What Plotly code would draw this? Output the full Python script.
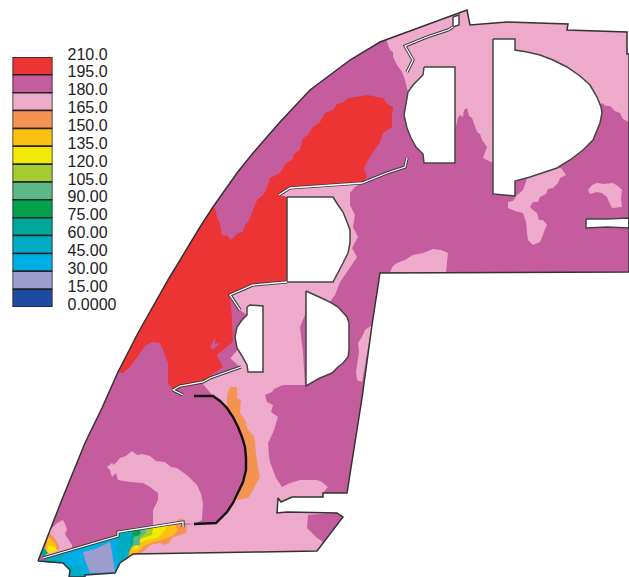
import plotly.graph_objects as go

# ---- legend data ----
legend_levels = [210.0, 195.0, 180.0, 165.0, 150.0, 135.0, 120.0, 105.0, 90.0, 75.0, 60.0, 45.0, 30.0, 15.0, 0.0]
legend_labels = ["210.0", "195.0", "180.0", "165.0", "150.0", "135.0", "120.0", "105.0", "90.00", "75.00", "60.00", "45.00", "30.00", "15.00", "0.0000"]
band_colors = ["#ec3435", "#c55c9e", "#eeaacb", "#f39452", "#fdc010", "#f2ea05", "#a4cb30",
               "#5bb987", "#00a34a", "#00a898", "#00abc4", "#00aee6", "#9c9cce", "#1e4a9f"]
RED, PURPLE, PINK, ORANGE, AMBER, YELLOW, LIME, SEAFOAM, GREEN, TEAL, CYAN, SKY, LAV, NAVY = band_colors

# ---- geometry of the part ----
outline = [(38,561),(50,530),(63,497),(85,443),(102,408),(118,372),(138,333),(168,280),(200,227),(213,207),
           (237,173),(253,153),(280,122),(310,90),(350,60),(380,42),(420,27),(463,11),(467,10),(470,25),(507,22),
           (568,24),(567,30),(627,32),(627,54),(629,54),(629,272),(380,273),(372,325),(362,398),(351,470),(347,493),
           (323,493),(323,497),(292,497),(281,502),(278,498),(277,513),(287,512),(337,513),(343,517),(317,551),
           (260,552),(205,553),(133,554),(120,563),(115,573),(85,575),(85,577),(69,577),(70,570),(63,563),(38,561)]

pink_top = [(387,42),(390,50),(393,52),(393,57),(397,65),(402,72),(405,80),(408,92),(430,110),(455,130),(458,118),(460,115),(463,117),(464,110),(467,108),
            (469,116),(472,118),(474,124),(477,132),(480,134),(482,140),(487,147),(485,152),(483,158),(493,163),(550,150),(602,103),(606,106),(610,106),(615,111),(620,113),
            (623,119),(629,122),(629,54),(627,54),(627,32),(567,30),(568,24),(507,22),(470,25),(467,10),(463,11),(420,27),(387,39)]
pink_e_low = [(530,170),(561,168),(566,175),(560,178),(558,183),(553,188),(548,189),(546,194),(540,197),(538,202),(533,202),(530,207),(533,210),(537,213),(539,220),(543,220),(547,225),
              (545,229),(543,235),(540,242),(533,245),(528,240),(527,233),(526,222),(523,213),(515,211),(508,208),(508,202),(513,201),(516,196),(523,190)]
pink_right = [(588,190),(592,185),(597,183),(604,184),(613,183),(618,186),(622,190),(621,198),(622,207),(612,208),(609,202),(607,197),(602,193),(597,192),(590,194)]
pink_low_mid = [(390,272),(393,266),(397,263),(405,260),(413,255),(423,253),(433,249),(441,250),(448,253),(446,272)]
pink_central = [(232,295),(240,310),(247,315),(240,330),(237,350),(230,358),(240,367),(202,383),(213,396),(227,408),(238,427),
                (245,447),(246,470),(238,493),(227,512),(216,523),(194,524),(183,525),(133,530),(133,554),(205,553),(260,552),
                (317,551),(343,517),(337,513),(287,512),(277,513),(278,498),(281,502),(292,497),(323,497),(323,493),(328,487),
                (322,482),(317,480),(300,480),(290,483),(282,487),(276,478),(273,470),(270,462),(269,456),(268,443),(271,437),(274,430),(278,417),(271,412),(273,405),(267,402),
                (265,395),(272,392),(274,389),(283,385),(305,385),(303,353),(300,327),(305,315),(306,291),(330,302),(335,295),(340,282),
                (347,272),(353,263),(357,257),(352,248),(358,237),(353,227),(355,215),(350,205),(350,193),(355,187),(362,183),
                (290,188),(279,195),(287,197),(287,282),(253,285)]
pink_strip = [(372,325),(365,330),(362,337),(358,343),(359,352),(358,360),(356,372),(357,380),(362,382)]
pink_arch = [(107,467),(112,463),(114,465),(120,458),(126,456),(132,451),(137,455),(142,454),(150,456),(156,461),(165,462),(171,467),(177,468),(188,476),(197,485),(201,494),(203,503),
             (202,520),(194,524),(182,523),(153,527),(153,510),(158,500),(158,493),(150,487),(143,483),(130,482),(118,480),(116,473),(112,477),(110,470)]
pink_left = [(57,523),(63,520),(66,526),(67,530),(65,534),(72,545),(72,550),(44,556),(50,530)]

purple_low = [(308,515),(307,528),(317,538),(323,542),(343,517),(337,513)]
purple_hole_c = [(230,295),(232,318),(233,342),(217,355),(223,367),(230,358),(237,350),(240,330),(240,310)]
purple_finger = [(210,347),(215,338),(215,344),(220,343),(213,350)]

red_main = [(118,372),(138,333),(168,280),(200,227),(213,207),(215,208),(217,217),(220,224),(222,235),(228,236),(230,240),(233,238),(238,233),(243,232),(245,225),(248,222),
            (252,213),(254,207),(257,200),(263,195),(266,190),(268,184),(270,178),(280,173),(286,163),(292,160),(294,154),(300,150),(303,138),(308,135),(313,127),(320,122),(325,113),(333,110),
            (337,104),(342,103),(349,98),(355,97),(367,95),(383,98),(387,104),(393,107),(392,116),(392,127),(383,133),(380,142),(377,147),(372,154),(368,160),(364,168),(367,177),
            (362,183),(290,188),(279,195),(287,197),(287,282),(253,285),(230,295),(233,318),(233,342),(217,355),(223,367),(200,383),(173,390),
            (168,383),(168,363),(164,352),(160,343),(152,342),(145,346),(140,353),(134,361),(130,367),(123,373)]

orange_arc = [(230,387),(237,387),(237,398),(241,400),(240,413),(245,420),(248,430),(254,436),(255,442),(256,455),(258,467),(260,478),(256,484),(253,490),
              (248,498),(237,500),(246,470),(245,447),(238,427),(227,408),(227,395)]
orange_dot = [(177,520),(183,518),(184,524),(178,524)]
sky_low = [(38,561),(43,560),(118,536),(118,533),(135,528),(133,554),(120,563),(115,573),(85,575),(85,577),(69,577),(70,570),(63,563)]
cyan_foot = [(70,566),(80,566),(85,575),(85,577),(69,577),(70,570)]
cyan_tip = [(40,561),(65,553),(62,562),(50,563)]
lav_low = [(83,552),(95,549),(110,542),(112,552),(115,572),(90,573),(85,560)]
cyan_mid = [(118,534),(132,531),(130,540),(131,545),(127,553),(122,560),(118,562),(116,548)]
orange_low = [(135,528),(182,523),(187,527),(186,533),(180,535),(173,537),(169,543),(165,545),(160,543),(150,545),(143,552),(133,555),(128,557),(132,540)]
amber_low = [(135,528),(175,525),(178,530),(173,535),(167,538),(153,542),(145,545),(138,552),(135,553),(129,556),(132,540)]
yellow_low = [(138,528),(167,526),(163,533),(157,538),(147,540),(140,543),(137,549),(133,551)]
lime_low = [(135,528),(153,527),(152,535),(142,538),(137,543),(132,547)]
seafoam_low = [(135,528),(147,528),(145,534),(140,537),(140,545),(132,546)]
green_low = [(131,530),(141,528),(140,535),(133,537)]
teal_low = [(129,535),(134,535),(133,545),(128,553),(126,545)]
orange_tip = [(50,533),(56,540),(60,549),(43,555),(44,548)]
amber_tip = [(48,537),(55,543),(57,550),(45,555)]
yellow_tip = [(48,545),(56,548),(57,551),(50,553),(47,552)]
teal_tip = [(44,548),(48,553),(43,557),(41,554)]

hole_a = [(287,197),(333,197),(338,205),(343,212),(347,222),(350,230),(350,243),(348,253),(343,263),(338,273),(333,282),(287,282)]
hole_b = [(306,291),(320,297),(330,302),(338,307),(343,312),(347,317),(349,323),(349,350),(348,357),(343,363),(338,367),(332,373),(320,378),(306,386)]
hole_c = [(247,307),(250,305),(263,306),(263,372),(248,372),(247,365),(242,356),(237,348),(235,337),(237,327),(242,320),(247,315)]
hole_d = [(424,67),(455,67),(455,163),(424,163),(423,154),(416,147),(411,138),(407,128),(404,115),(406,103),(408,92),(413,85),(419,79),(423,75)]
hole_e = [(493,39),(515,39),(515,50),(527,52),(540,55),(553,60),(567,67),(580,76),(590,85),(597,97),(601,107),(602,113),(600,123),(593,140),
          (583,150),(570,160),(557,168),(543,173),(530,177),(515,181),(515,196),(493,194)]
slot_f = [(586,219),(607,219),(629,218),(629,228),(607,227),(586,228)]
box_g = [(453,17),(459,15),(459,25),(453,27)]

slit_1 = [(43,558),(118,536),(118,532),(180,523),(183,522),(183,527)]
slit_2 = [(183,395),(173,390),(180,386),(203,382),(210,378),(241,367)]
slit_3 = [(240,310),(230,295),(253,285),(287,282)]
slit_h = [(279,195),(290,188),(362,183),(387,173),(405,167),(407,158)]
slit_g = [(453,27),(448,30),(427,37),(405,46),(413,60),(407,72)]
arc_top = [(194,396),(213,396),(220,401),(227,408),(233,417),(238,427),(242,437),(245,447),(246,458),(246,470),(243,482),(238,493),(233,503),(227,512),(216,523),(194,524)]

fills = [
    (outline, PURPLE), (pink_top, PINK), (pink_e_low, PINK), (pink_right, PINK), (pink_low_mid, PINK),
    (pink_central, PINK), (pink_strip, PINK), (pink_arch, PINK), (pink_left, PINK),
    (purple_low, PURPLE), (purple_hole_c, PURPLE), (red_main, RED), (purple_hole_c, PURPLE), (purple_finger, PURPLE),
    (orange_arc, ORANGE), (orange_dot, ORANGE), (sky_low, SKY), (cyan_foot, CYAN), (cyan_tip, CYAN), (lav_low, LAV),
    (orange_low, ORANGE), (amber_low, AMBER), (yellow_low, YELLOW), (lime_low, LIME), (seafoam_low, SEAFOAM),
    (green_low, GREEN), (teal_low, TEAL), (cyan_mid, CYAN), (orange_tip, ORANGE), (amber_tip, AMBER),
    (yellow_tip, YELLOW), (teal_tip, TEAL),
]
holes = [hole_a, hole_b, hole_c, hole_d, hole_e, slot_f, box_g]
slits = [slit_1, slit_2, slit_3, slit_h, slit_g]

fig = go.Figure()

def closed(pts):
    return [p[0] for p in pts] + [pts[0][0]], [p[1] for p in pts] + [pts[0][1]]

def add(x, y, **kw):
    fig.add_trace(go.Scatter(x=x, y=y, hoverinfo="skip", showlegend=False, **kw))

for pts, col in fills:
    x, y = closed(pts)
    add(x, y, mode="lines", fill="toself", fillcolor=col, line=dict(width=0, color=col))
for pts in holes:
    x, y = closed(pts)
    add(x, y, mode="lines", fill="toself", fillcolor="#ffffff", line=dict(width=1.5, color="#444444"))
for pts in slits:
    x, y = [p[0] for p in pts], [p[1] for p in pts]
    add(x, y, mode="lines", line=dict(width=3.2, color="#3a3a3a"))
    add(x, y, mode="lines", line=dict(width=1.3, color="#ffffff"))
x, y = [p[0] for p in arc_top], [p[1] for p in arc_top]
add(x, y, mode="lines", line=dict(width=2.4, color="#111111"))
x, y = closed(outline)
add(x, y, mode="lines", line=dict(width=1.5, color="#333333"))

# ---- colour scale drawn on its own value axis ----
fig.add_trace(go.Bar(
    x=[0.5] * len(band_colors),
    y=[legend_levels[i] - legend_levels[i + 1] for i in range(len(band_colors))],
    base=legend_levels[1:],
    width=1,
    marker=dict(color=band_colors, line=dict(color="#222222", width=1.5)),
    xaxis="x2", yaxis="y2", showlegend=False, hoverinfo="skip",
))
fig.add_trace(go.Scatter(x=[0.5], y=[0], mode="markers", marker=dict(opacity=0),
                         xaxis="x2", yaxis="y3", showlegend=False, hoverinfo="skip"))

W, H = 629, 577
fig.update_layout(
    width=W, height=H, margin=dict(l=0, r=0, t=0, b=0), paper_bgcolor="white", plot_bgcolor="rgba(0,0,0,0)",
    barmode="overlay", showlegend=False,
    xaxis=dict(range=[0, W], visible=False, domain=[0, 1], fixedrange=True),
    yaxis=dict(range=[H, 0], visible=False, domain=[0, 1], fixedrange=True),
    xaxis2=dict(range=[0, 1], domain=[12.5 / W, 52.5 / W], visible=False, anchor="y2"),
    yaxis2=dict(range=[0, 210], domain=[1 - 307 / H, 1 - 57 / H], visible=False, anchor="x2"),
    yaxis3=dict(range=[0, 210], domain=[1 - 304 / H, 1 - 54 / H], anchor="x2", side="right",
                tickvals=legend_levels, ticktext=legend_labels, ticks="", showgrid=False, zeroline=False,
                showline=False, ticklabelstandoff=14, automargin=False,
                tickfont=dict(family="Liberation Sans, Arial, sans-serif", size=16, color="#222222")),
)
fig.write_html("out.html", config={"displayModeBar": False},
               post_script="document.body.style.margin='0';document.body.style.overflow='hidden';")
